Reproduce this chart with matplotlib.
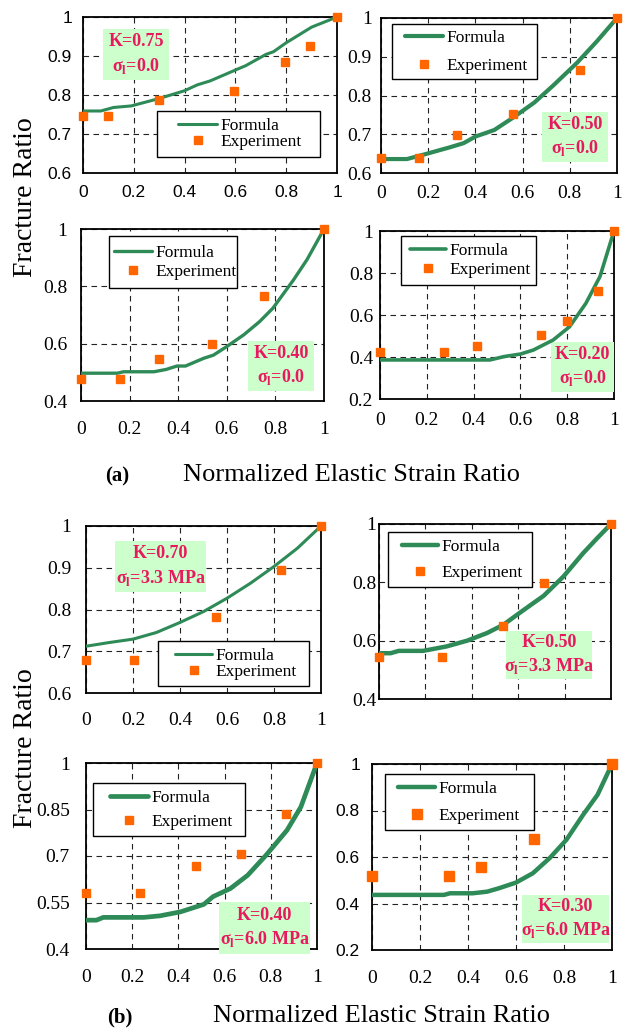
import matplotlib
matplotlib.use("Agg")
import matplotlib.pyplot as plt
from matplotlib.lines import Line2D
from matplotlib.patches import Rectangle
from matplotlib.legend_handler import HandlerLine2D

# ---------------------------------------------------------------- data
# (a) sigma_l = 0
k075_formula_x = [0, 0.07, 0.12, 0.19, 0.30, 0.40, 0.45, 0.50, 0.60, 0.64, 0.72, 0.75, 0.80, 0.90, 1.0]
k075_formula_y = [0.759, 0.759, 0.768, 0.772, 0.791, 0.811, 0.826, 0.836, 0.864, 0.875, 0.904, 0.911, 0.934, 0.974, 1.0]
k075_exp_x = [0, 0.10, 0.30, 0.595, 0.795, 0.895, 1.0]
k075_exp_y = [0.745, 0.746, 0.787, 0.811, 0.884, 0.926, 1.0]

k050_formula_x = [0, 0.11, 0.19, 0.29, 0.35, 0.40, 0.48, 0.56, 0.65, 0.73, 0.83, 0.915, 1.0]
k050_formula_y = [0.636, 0.636, 0.649, 0.666, 0.677, 0.694, 0.711, 0.743, 0.782, 0.826, 0.884, 0.940, 1.0]
k050_exp_x = [0, 0.16, 0.32, 0.56, 0.845, 1.0]
k050_exp_y = [0.640, 0.640, 0.699, 0.753, 0.867, 1.0]

k040_formula_x = [0, 0.15, 0.175, 0.30, 0.35, 0.395, 0.43, 0.505, 0.545, 0.60, 0.67, 0.735, 0.79, 0.875, 0.93, 1.0]
k040_formula_y = [0.497, 0.497, 0.502, 0.502, 0.510, 0.522, 0.522, 0.549, 0.560, 0.590, 0.631, 0.677, 0.724, 0.823, 0.893, 1.0]
k040_exp_x = [0, 0.16, 0.32, 0.54, 0.755, 1.0]
k040_exp_y = [0.477, 0.477, 0.547, 0.598, 0.767, 1.0]

k020_formula_x = [0, 0.47, 0.53, 0.60, 0.655, 0.74, 0.81, 0.88, 0.94, 1.0]
k020_formula_y = [0.386, 0.386, 0.402, 0.414, 0.433, 0.481, 0.544, 0.656, 0.783, 1.0]
k020_exp_x = [0, 0.275, 0.415, 0.69, 0.80, 0.93, 1.0]
k020_exp_y = [0.422, 0.422, 0.454, 0.505, 0.573, 0.714, 1.0]

# (b) sigma_l > 0
k070s33_formula_x = [0, 0.10, 0.20, 0.30, 0.40, 0.50, 0.60, 0.70, 0.80, 0.90, 1.0]
k070s33_formula_y = [0.712, 0.721, 0.729, 0.745, 0.769, 0.795, 0.827, 0.863, 0.903, 0.947, 1.0]
k070s33_exp_x = [0, 0.205, 0.555, 0.83, 1.0]
k070s33_exp_y = [0.680, 0.680, 0.781, 0.895, 1.0]

k050s33_formula_x = [0, 0.05, 0.085, 0.19, 0.29, 0.38, 0.465, 0.535, 0.625, 0.71, 0.795, 0.88, 0.94, 1.0]
k050s33_formula_y = [0.557, 0.557, 0.565, 0.565, 0.580, 0.600, 0.626, 0.654, 0.706, 0.754, 0.820, 0.900, 0.951, 1.0]
k050s33_exp_x = [0, 0.27, 0.535, 0.71, 1.0]
k050s33_exp_y = [0.543, 0.543, 0.649, 0.799, 1.0]

k040s60_formula_x = [0, 0.045, 0.075, 0.25, 0.32, 0.41, 0.51, 0.55, 0.625, 0.70, 0.78, 0.87, 0.93, 1.0]
k040s60_formula_y = [0.493, 0.493, 0.502, 0.502, 0.507, 0.520, 0.544, 0.569, 0.595, 0.638, 0.703, 0.783, 0.858, 1.0]
k040s60_exp_x = [0, 0.235, 0.475, 0.67, 0.865, 1.0]
k040s60_exp_y = [0.581, 0.581, 0.668, 0.708, 0.837, 1.0]

k030s60_formula_x = [0, 0.30, 0.325, 0.42, 0.48, 0.53, 0.60, 0.67, 0.74, 0.81, 0.88, 0.94, 1.0]
k030s60_formula_y = [0.437, 0.437, 0.444, 0.444, 0.451, 0.466, 0.490, 0.530, 0.595, 0.674, 0.782, 0.868, 1.0]
k030s60_exp_x = [0, 0.32, 0.455, 0.675, 1.0]
k030s60_exp_y = [0.519, 0.519, 0.559, 0.678, 1.0]

x_ticks = [0, 0.2, 0.4, 0.6, 0.8, 1.0]
x_tick_labels = ["0", "0.2", "0.4", "0.6", "0.8", "1"]

y_ticks_06 = [0.6, 0.7, 0.8, 0.9, 1.0]
y_labels_06 = ["0.6", "0.7", "0.8", "0.9", "1"]
y_ticks_04 = [0.4, 0.6, 0.8, 1.0]
y_labels_04 = ["0.4", "0.6", "0.8", "1"]
y_ticks_02 = [0.2, 0.4, 0.6, 0.8, 1.0]
y_labels_02 = ["0.2", "0.4", "0.6", "0.8", "1"]
y_ticks_04b = [0.4, 0.55, 0.7, 0.85, 1.0]
y_labels_04b = ["0.4", "0.55", "0.7", "0.85", "1"]

k_labels = ["K=0.75", "K=0.50", "K=0.40", "K=0.20", "K=0.70", "K=0.50", "K=0.40", "K=0.30"]
sigma_values = ["0.0", "0.0", "0.0", "0.0", "3.3 MPa", "3.3 MPa", "6.0 MPa", "6.0 MPa"]

# ---------------------------------------------------------------- style
W, H, DPI = 629, 1029, 100
GREEN = "#2e8b57"
ORANGE = "#ff6600"
PINK = "#e8195e"
BOXGREEN = "#ccffcc"
SERIF = "Liberation Serif"
SANS = "Liberation Sans"
LEG_FS = 12.5
FS_PX = LEG_FS * DPI / 72.0

fig = plt.figure(figsize=(W / DPI, H / DPI), dpi=DPI)
fig.patch.set_facecolor("white")

# layout in pixels: axes box, legend box, legend row gap, legend handle offset/length,
# annotation box, tick pads, line width, marker size, tick fonts
panels = [
    dict(fx=k075_formula_x, fy=k075_formula_y, ex=k075_exp_x, ey=k075_exp_y,
         ax=(83, 17, 337, 173), ylim=(0.6, 1.0), yt=y_ticks_06, yl=y_labels_06,
         leg=(157, 111, 320, 165), gap=20, hoff=21, hlen=39,
         ann=(103, 29, 169, 80), xpad=12, ypad=11, lw=2.2, ms=5.2,
         xfont=SANS, yfont=SANS, xlab=True),
    dict(fx=k050_formula_x, fy=k050_formula_y, ex=k050_exp_x, ey=k050_exp_y,
         ax=(381, 18, 617, 173), ylim=(0.6, 1.0), yt=y_ticks_06, yl=y_labels_06,
         leg=(392, 24, 537, 87), gap=32, hoff=13, hlen=38,
         ann=(542, 112, 608, 162), xpad=12, ypad=9, lw=3.0, ms=5.6,
         xfont=SERIF, yfont=SERIF, xlab=True),
    dict(fx=k040_formula_x, fy=k040_formula_y, ex=k040_exp_x, ey=k040_exp_y,
         ax=(81, 229, 324, 401), ylim=(0.4, 1.0), yt=y_ticks_04, yl=y_labels_04,
         leg=(109, 236, 237, 296), gap=23, hoff=5, hlen=38,
         ann=(248, 341, 314, 391), xpad=20, ypad=14, lw=2.4, ms=5.2,
         xfont=SERIF, yfont=SERIF, xlab=True),
    dict(fx=k020_formula_x, fy=k020_formula_y, ex=k020_exp_x, ey=k020_exp_y,
         ax=(380, 231, 614, 399), ylim=(0.2, 1.0), yt=y_ticks_02, yl=y_labels_02,
         leg=(401, 236, 536, 293), gap=23, hoff=9, hlen=36,
         ann=(551, 342, 614, 392), xpad=13, ypad=7, lw=2.6, ms=5.4,
         xfont=SERIF, yfont=SERIF, xlab=True),
    dict(fx=k070s33_formula_x, fy=k070s33_formula_y, ex=k070s33_exp_x, ey=k070s33_exp_y,
         ax=(86, 526, 321, 693), ylim=(0.6, 1.0), yt=y_ticks_06, yl=y_labels_06,
         leg=(158, 641, 309, 693), gap=19, hoff=17, hlen=37,
         ann=(115, 541, 206, 592), xpad=19, ypad=15, lw=2.2, ms=5.2,
         xfont=SERIF, yfont=SERIF, xlab=True),
    dict(fx=k050s33_formula_x, fy=k050s33_formula_y, ex=k050s33_exp_x, ey=k050s33_exp_y,
         ax=(379, 524, 611, 699), ylim=(0.4, 1.0), yt=y_ticks_04, yl=y_labels_04,
         leg=(388, 532, 532, 595), gap=30, hoff=14, hlen=36,
         ann=(506, 631, 592, 679), xpad=12, ypad=3, lw=3.2, ms=5.4,
         xfont=SERIF, yfont=SERIF, xlab=False),
    dict(fx=k040s60_formula_x, fy=k040s60_formula_y, ex=k040s60_exp_x, ey=k040s60_exp_y,
         ax=(86, 763, 317, 949), ylim=(0.4, 1.0), yt=y_ticks_04b, yl=y_labels_04b,
         leg=(93, 783, 245, 844), gap=28, hoff=17, hlen=38,
         ann=(219, 902, 310, 954), xpad=20, ypad=16, lw=3.4, ms=5.6,
         xfont=SERIF, yfont=SERIF, xlab=True),
    dict(fx=k030s60_formula_x, fy=k030s60_formula_y, ex=k030s60_exp_x, ey=k030s60_exp_y,
         ax=(372, 764, 612, 950), ylim=(0.2, 1.0), yt=y_ticks_02, yl=y_labels_02,
         leg=(385, 774, 534, 838), gap=31, hoff=13, hlen=37,
         ann=(522, 895, 609, 943), xpad=20, ypad=12, lw=3.2, ms=7.2,
         xfont=SERIF, yfont=SANS, xlab=True),
]


def to_axes_frac(box, axbox):
    L, T, R, B = axbox
    x0, y0, x1, y1 = box
    fx0 = (x0 - L) / (R - L)
    fx1 = (x1 - L) / (R - L)
    fy0 = (B - y1) / (B - T)
    fy1 = (B - y0) / (B - T)
    return fx0, fy0, fx1 - fx0, fy1 - fy0


for i, p in enumerate(panels):
    L, T, R, B = p["ax"]
    ax = fig.add_axes([L / W, 1 - B / H, (R - L) / W, (B - T) / H])
    ax.set_xlim(0, 1)
    ax.set_ylim(*p["ylim"])
    ax.set_xticks(x_ticks)
    ax.set_yticks(p["yt"])
    ax.set_xticklabels(x_tick_labels if p["xlab"] else [""] * len(x_ticks))
    ax.set_yticklabels(p["yl"])
    xs = 14 if p["xfont"] == SERIF else 12.5
    ys = 14 if p["yfont"] == SERIF else 12.5
    for t in ax.get_xticklabels():
        t.set_fontfamily(p["xfont"]); t.set_fontsize(xs)
    for t in ax.get_yticklabels():
        t.set_fontfamily(p["yfont"]); t.set_fontsize(ys)
    ax.tick_params(axis="x", length=0, pad=p["xpad"] * 0.72)
    ax.tick_params(axis="y", length=0, pad=p["ypad"] * 0.72)
    for s in ax.spines.values():
        s.set_linewidth(1.3)
        s.set_color("black")
    ax.set_axisbelow(True)
    ax.grid(True, color="#222222", linestyle=(0, (5, 4)), linewidth=0.8)

    line, = ax.plot(p["fx"], p["fy"], color=GREEN, lw=p["lw"], zorder=4,
                    solid_capstyle="round", solid_joinstyle="round")
    pts, = ax.plot(p["ex"], p["ey"], linestyle="none", marker="s", ms=p["ms"],
                   mfc=ORANGE, mec=ORANGE, zorder=6, clip_on=False)

    # parameter box
    ax0, ay0, aw, ah = to_axes_frac(p["ann"], p["ax"])
    ax.add_patch(Rectangle((ax0, ay0), aw, ah, transform=ax.transAxes,
                           facecolor=BOXGREEN, edgecolor="none", zorder=3, clip_on=False))
    ax.text(ax0 + aw / 2, ay0 + ah / 2,
            k_labels[i] + "\n" + "σ$_\\mathregular{l}$=" + sigma_values[i],
            transform=ax.transAxes, ha="center", va="center", color=PINK,
            fontfamily=SERIF, fontweight="bold", fontsize=13, linespacing=1.35,
            zorder=7)

    # legend
    lx0, ly0, lw_, lh = to_axes_frac(p["leg"], p["ax"])
    box_h_px = p["leg"][3] - p["leg"][1]
    row_h = 1.16
    labelspacing = max(p["gap"] / FS_PX - row_h, 0.0)
    borderpad = max((box_h_px - p["gap"] - row_h * FS_PX) / 2 / FS_PX, 0.1)
    xpad = (p["hoff"] - borderpad * FS_PX) / FS_PX
    handlelength = p["hlen"] / FS_PX + xpad
    h1 = Line2D([], [], color=GREEN, lw=p["lw"], solid_capstyle="round")
    h2 = Line2D([], [], linestyle="none", marker="s", ms=p["ms"], mfc=ORANGE, mec=ORANGE)
    leg = ax.legend([h1, h2], ["Formula", "Experiment"],
                    bbox_to_anchor=(lx0, ly0, lw_, lh), bbox_transform=ax.transAxes,
                    loc="upper left", mode="expand", borderaxespad=0,
                    prop={"family": SERIF, "size": LEG_FS},
                    fancybox=False, shadow=False, framealpha=1, edgecolor="black",
                    borderpad=borderpad, labelspacing=labelspacing,
                    handlelength=handlelength, handletextpad=0.2, numpoints=1,
                    handler_map={h1: HandlerLine2D(xpad=xpad), h2: HandlerLine2D(xpad=xpad)})
    leg.get_frame().set_linewidth(1.0)
    leg.set_zorder(5)

# shared labels
for yc in (197, 748):
    fig.text(26 / W, 1 - yc / H, "Fracture Ratio", rotation=90, ha="center", va="center",
             fontfamily=SERIF, fontsize=20)
for tag, xt, xl, yb in (("(a)", 117, 183, 481), ("(b)", 120, 213, 1022)):
    fig.text(xt / W, 1 - yb / H, tag, ha="center", va="baseline",
             fontfamily=SERIF, fontweight="bold", fontsize=15)
    fig.text(xl / W, 1 - yb / H, "Normalized Elastic Strain Ratio", ha="left",
             va="baseline", fontfamily=SERIF, fontsize=19)

fig.savefig("out.png", dpi=DPI, facecolor="white")
